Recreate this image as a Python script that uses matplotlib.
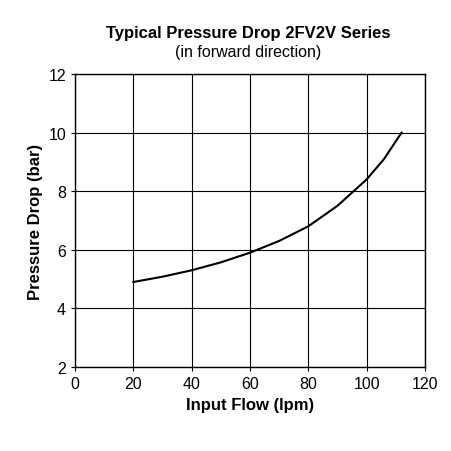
import matplotlib
matplotlib.use("Agg")
import matplotlib.pyplot as plt

plt.rcParams['font.family'] = ['Liberation Sans', 'DejaVu Sans']

flow = [20, 30, 40, 50, 60, 70, 80, 90, 100, 106, 112]
drop = [4.9, 5.08, 5.3, 5.57, 5.9, 6.3, 6.8, 7.5, 8.4, 9.1, 10.0]
xticks = [0, 20, 40, 60, 80, 100, 120]
yticks = [2, 4, 6, 8, 10, 12]

fig = plt.figure(figsize=(4.52, 4.52), dpi=100)
ax = fig.add_axes([0.166, 0.186, 0.774, 0.648])
ax.plot(flow, drop, color="black", lw=1.5)
ax.set_xlim(0, 120)
ax.set_ylim(2, 12)
ax.set_xticks(xticks)
ax.set_yticks(yticks)
ax.grid(True, color="black", lw=0.8)
for s in ax.spines.values():
    s.set_linewidth(1.0)
ax.tick_params(labelsize=11.5, length=3)
ax.set_xlabel("Input Flow (lpm)", fontsize=12, fontweight="bold")
ax.set_ylabel("Pressure Drop (bar)", fontsize=12, fontweight="bold")
fig.text(0.55, 0.915, "Typical Pressure Drop 2FV2V Series", ha="center", fontsize=12, fontweight="bold")
fig.text(0.55, 0.875, "(in forward direction)", ha="center", fontsize=11.5)
fig.savefig("out.png", dpi=100)
